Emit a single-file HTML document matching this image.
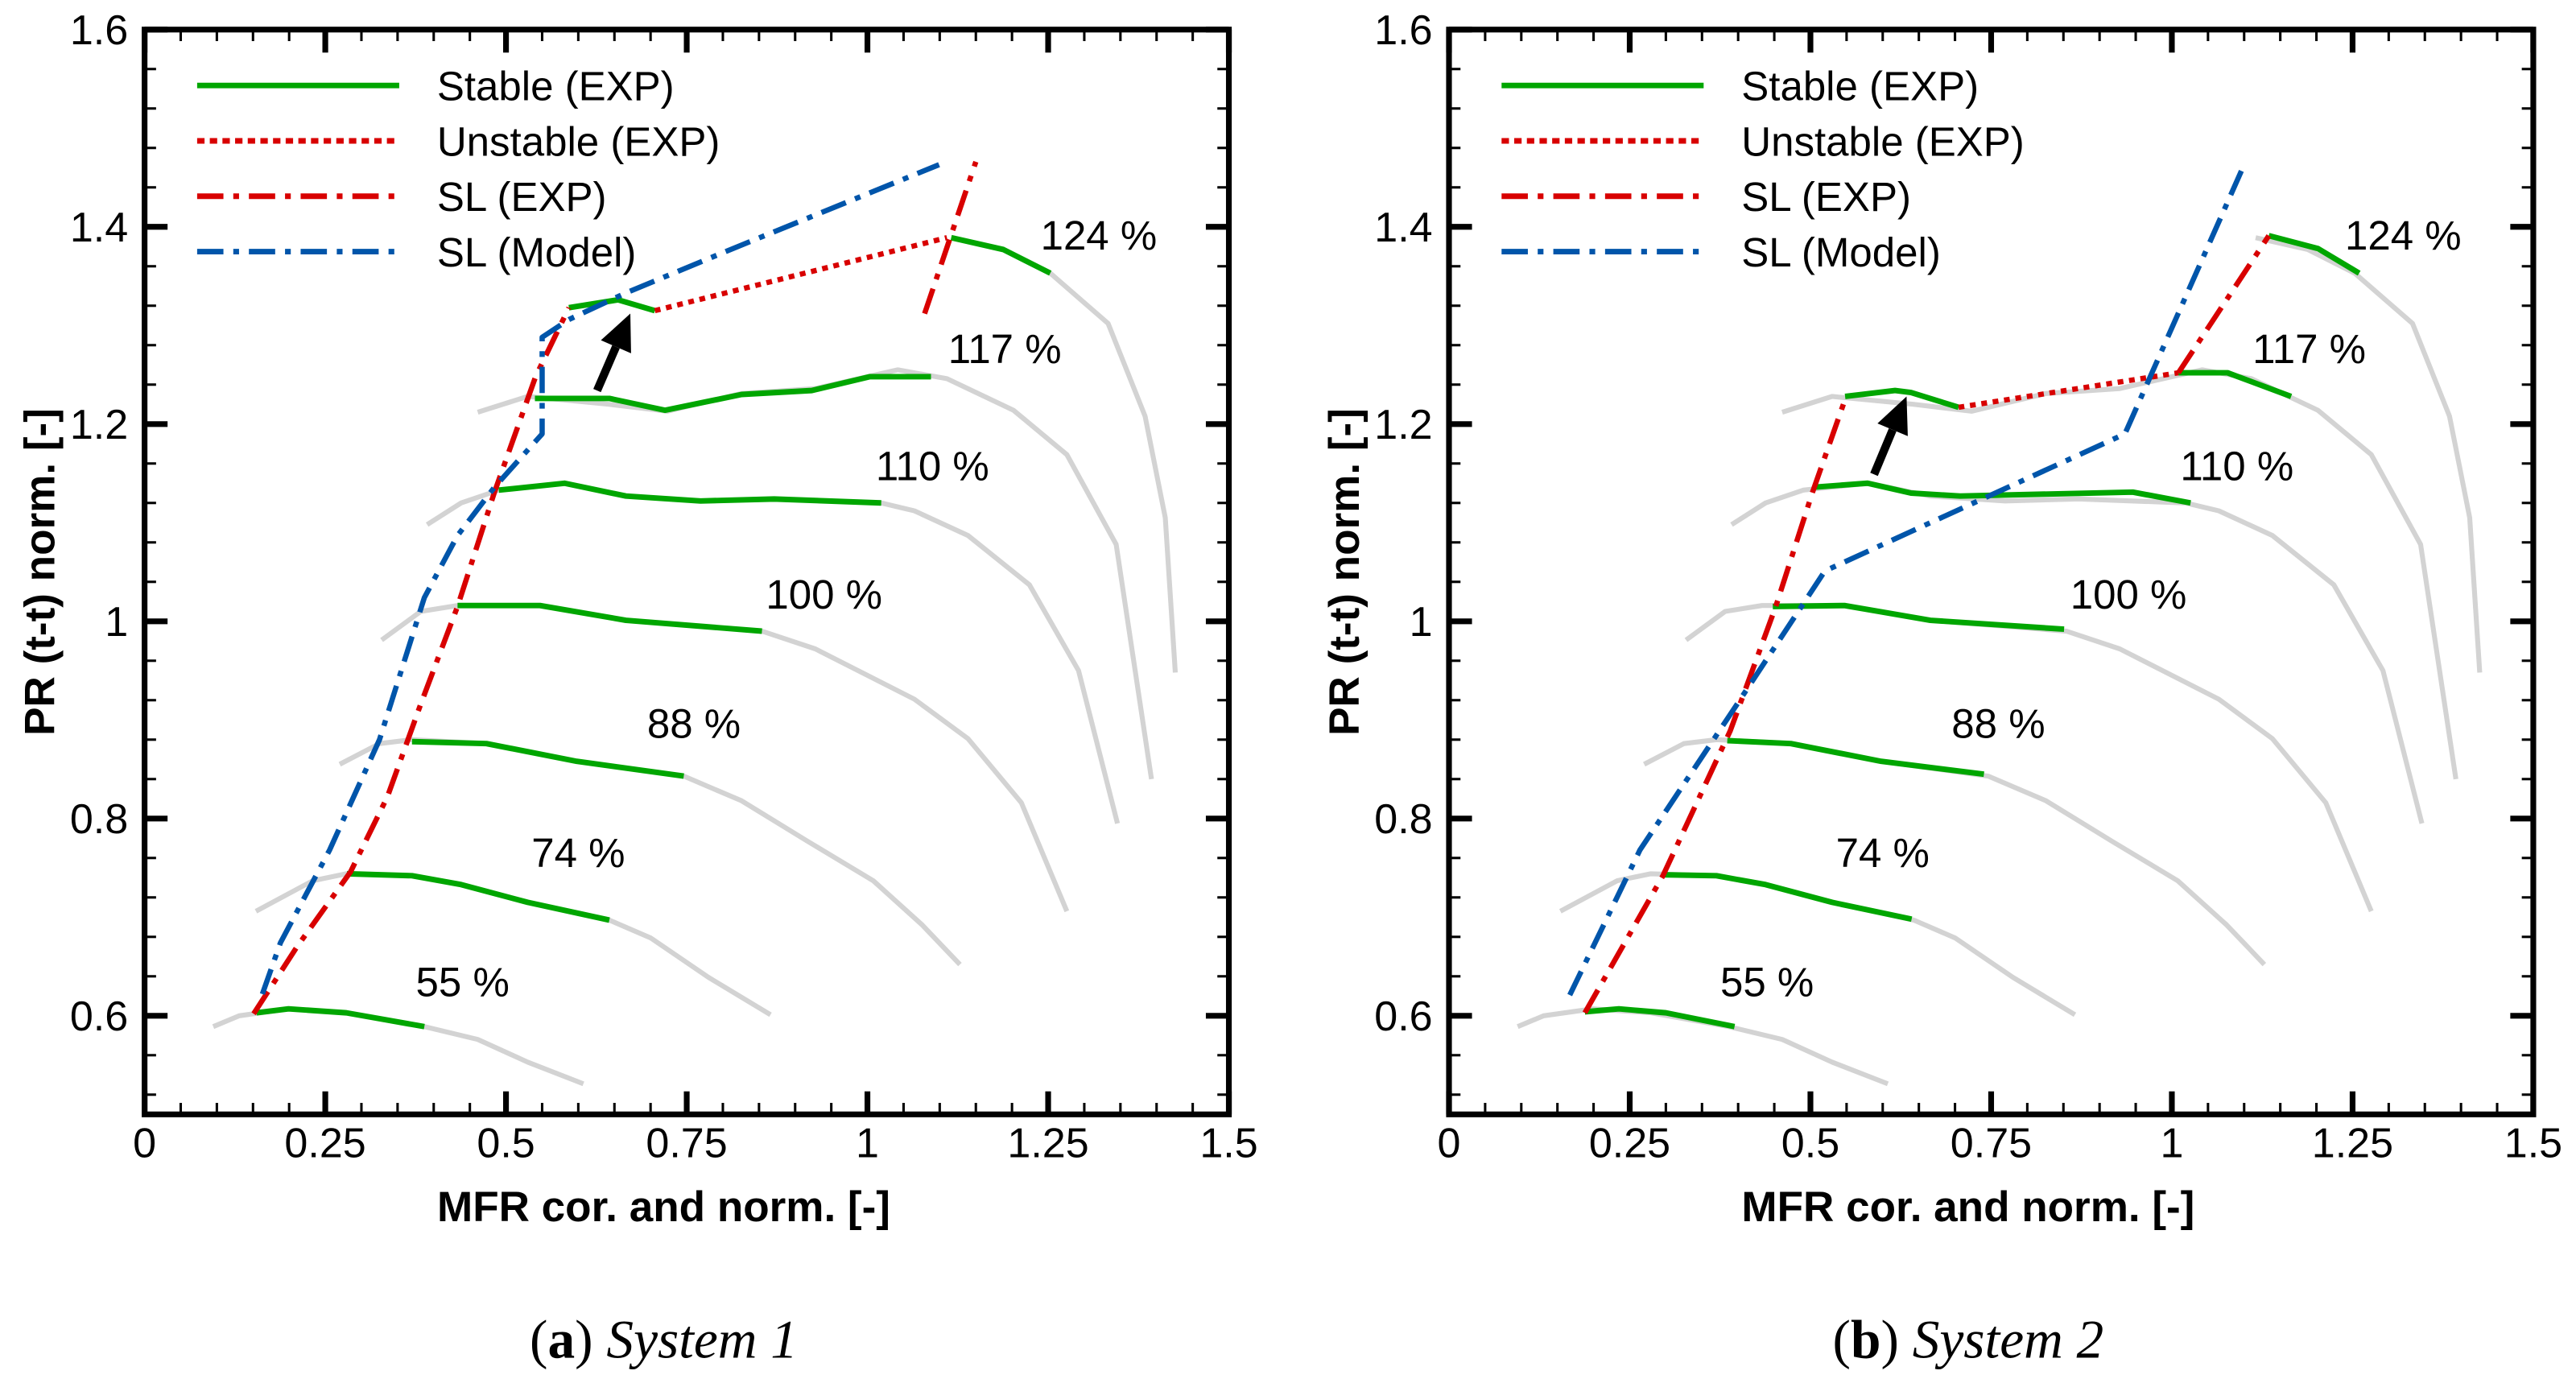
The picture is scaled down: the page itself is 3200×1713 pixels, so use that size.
<!DOCTYPE html>
<html><head><meta charset="utf-8"><style>
html,body{margin:0;padding:0;background:#fff;}
svg{display:block;}
text{font-family:"Liberation Sans",sans-serif;fill:#000;}
text.serif{font-family:"Liberation Serif",serif;}
</style></head><body>
<svg id="chart" width="3200" height="1713" viewBox="0 0 1568 839" preserveAspectRatio="none" xmlns="http://www.w3.org/2000/svg"></svg>
<script>
// ---------- data ----------
const speedLabels = ["55 %","74 %","88 %","100 %","110 %","117 %","124 %"];
const labelPos = [[0.44,0.635],[0.6,0.766],[0.76,0.897],[0.94,1.028],[1.09,1.158],[1.19,1.277],[1.32,1.392]];
const grayX = [
 [0.095,0.131,0.199,0.279,0.387,0.461,0.530,0.607],
 [0.154,0.233,0.279,0.370,0.438,0.530,0.643,0.700,0.780,0.866],
 [0.270,0.325,0.370,0.473,0.598,0.746,0.826,0.917,1.008,1.076,1.128],
 [0.328,0.382,0.433,0.547,0.666,0.854,0.928,1.065,1.139,1.213,1.276],
 [0.391,0.438,0.490,0.581,0.666,0.769,0.871,1.019,1.065,1.139,1.224,1.292,1.346],
 [0.461,0.530,0.643,0.723,0.826,0.928,1.042,1.110,1.202,1.276,1.344,1.393],
 [1.116,1.188,1.253,1.333,1.384,1.412,1.426]];
const grayY = [
 [0.589,0.600,0.607,0.603,0.589,0.576,0.553,0.531],
 [0.706,0.737,0.744,0.742,0.733,0.715,0.697,0.679,0.639,0.601],
 [0.855,0.876,0.880,0.876,0.858,0.843,0.818,0.777,0.737,0.692,0.652],
 [0.981,1.010,1.016,1.016,1.001,0.990,0.972,0.921,0.881,0.816,0.706],
 [1.098,1.120,1.133,1.140,1.127,1.122,1.124,1.120,1.112,1.087,1.037,0.950,0.795],
 [1.212,1.228,1.220,1.213,1.231,1.236,1.255,1.246,1.214,1.169,1.078,0.840],
 [1.389,1.377,1.353,1.302,1.208,1.105,0.948]];
// System 1
const s1StableX = [
 [0.155,0.199,0.279,0.387],
 [0.280,0.370,0.438,0.530,0.643],
 [0.370,0.473,0.598,0.746],
 [0.433,0.547,0.666,0.854],
 [0.490,0.581,0.666,0.769,0.871,1.019],
 [0.540,0.643,0.720,0.826,0.923,1.003,1.088],
 [0.587,0.655,0.706],
 [1.116,1.188,1.253]];
const s1StableY = [
 [0.603,0.607,0.603,0.589],
 [0.744,0.742,0.733,0.715,0.697],
 [0.878,0.876,0.858,0.843],
 [1.016,1.016,1.001,0.990],
 [1.133,1.140,1.127,1.122,1.124,1.120],
 [1.226,1.226,1.214,1.230,1.234,1.248,1.248],
 [1.318,1.326,1.315],
 [1.389,1.377,1.353]];
const s1UnstableX = [[0.706,1.110]];
const s1UnstableY = [[1.315,1.389]];
const s1SlExpX = [[0.151,0.211,0.285,0.336,0.382,0.433,0.484,0.541,0.587],[1.079,1.150]];
const s1SlExpY = [[0.602,0.670,0.746,0.822,0.916,1.015,1.131,1.248,1.318],[1.312,1.466]];
const s1ModelX = [0.163,0.188,0.256,0.325,0.387,0.433,0.484,0.550,0.550,0.587,0.666,0.814,1.099];
const s1ModelY = [0.622,0.674,0.768,0.880,1.024,1.087,1.136,1.190,1.288,1.306,1.333,1.378,1.463];
const s1Arrow = [0.626,1.234,0.672,1.312];
// System 2
const s2StableX = [
 [0.188,0.235,0.300,0.395],
 [0.295,0.370,0.438,0.530,0.640],
 [0.385,0.473,0.598,0.740],
 [0.448,0.547,0.666,0.851],
 [0.505,0.579,0.639,0.707,0.946,1.026],
 [0.548,0.617,0.639,0.705],
 [1.009,1.077,1.165],
 [1.134,1.202,1.259]];
const s2StableY = [
 [0.604,0.607,0.603,0.589],
 [0.743,0.742,0.733,0.715,0.698],
 [0.879,0.876,0.858,0.845],
 [1.015,1.016,1.001,0.992],
 [1.136,1.140,1.130,1.127,1.131,1.120],
 [1.228,1.234,1.232,1.217],
 [1.252,1.252,1.228],
 [1.391,1.378,1.353]];
const s2UnstableX = [[0.705,1.009]];
const s2UnstableY = [[1.217,1.252]];
const s2SlExpX = [[0.188,0.296,0.389,0.452,0.503,0.548],[1.009,1.134]];
const s2SlExpY = [[0.603,0.742,0.889,1.015,1.131,1.225],[1.252,1.391]];
const s2ModelX = [0.167,0.264,0.395,0.520,0.639,0.935,1.100];
const s2ModelY = [0.621,0.768,0.912,1.051,1.091,1.190,1.463];
const s2Arrow = [0.588,1.149,0.633,1.228];
const xTicks = [0,0.25,0.5,0.75,1,1.25,1.5];
const xTickLabels = ["0","0.25","0.5","0.75","1","1.25","1.5"];
const yTicks = [0.6,0.8,1.0,1.2,1.4,1.6];
const yTickLabels = ["0.6","0.8","1","1.2","1.4","1.6"];
const legendLabels = ["Stable (EXP)","Unstable (EXP)","SL (EXP)","SL (Model)"];

// ---------- drawing ----------
const NS = "http://www.w3.org/2000/svg";
const svg = document.getElementById("chart");
const TOP = 18, BOT = 678, W = 660;
const GREEN="#00a600", RED="#d80000", BLUE="#0055aa", GRAY="#d3d3d3";
function mk(tag, attrs, parent){
  const e = document.createElementNS(NS, tag);
  for (const k in attrs) e.setAttribute(k, attrs[k]);
  (parent||svg).appendChild(e); return e;
}
function sy(v){ return TOP + (1.6 - v) * 600; }

function drawPanel(x0, cap, tag, d){
  const sx = v => x0 + v * 440;
  const g = mk("g", {});
  
  
  const clipId = "clip" + tag;
  const cp = mk("clipPath", {id: clipId}, g);
  mk("rect", {x: x0, y: TOP, width: W, height: BOT - TOP}, cp);
  const data = mk("g", {"clip-path": "url(#" + clipId + ")"}, g);
  function poly(xs, ys, color, dash, name, w){
    const pts = xs.map((x,i)=> sx(x).toFixed(1) + "," + sy(ys[i]).toFixed(1)).join(" ");
    const p = mk("polyline", {points: pts, fill: "none", stroke: color, "stroke-width": w||3.2, "stroke-linejoin":"round"}, data);
    if (dash) p.setAttribute("stroke-dasharray", dash);
    
    
  }
  grayX.forEach((xs,i)=> poly(xs, grayY[i], GRAY, null, "speedline-" + speedLabels[i].replace(" %","") , 3));
  d.stX.forEach((xs,i)=> poly(xs, d.stY[i], GREEN, null, "stable-exp-segment", 3.4));
  d.unX.forEach((xs,i)=> poly(xs, d.unY[i], RED, "3.5,3.5", "unstable-exp-line", 3.2));
  d.slX.forEach((xs,i)=> poly(xs, d.slY[i], RED, "16,6,3.5,6", "sl-exp-line", 3.2));
  poly(d.moX, d.moY, BLUE, "16,6,3.5,6", "sl-model-line", 3.2);
  // arrow
  const a = d.arrow;
  const ax1=sx(a[0]), ay1=sy(a[1]), ax2=sx(a[2]), ay2=sy(a[3]);
  const ang = Math.atan2(ay2-ay1, ax2-ax1);
  const hl = 22, hw = 10;
  const bx = ax2 - hl*Math.cos(ang), by = ay2 - hl*Math.sin(ang);
  const ln = mk("line", {x1: ax1, y1: ay1, x2: bx, y2: by, stroke:"#000", "stroke-width":5}, g);
  
  
  const head = mk("polygon", {points: [ax2+","+ay2, (bx+hw*Math.sin(ang))+","+(by-hw*Math.cos(ang)), (bx-hw*Math.sin(ang))+","+(by+hw*Math.cos(ang))].join(" "), fill:"#000"}, g);
  
  
  // speed labels
  speedLabels.forEach((s,i)=>{
    const t = mk("text", {x: sx(labelPos[i][0]), y: sy(labelPos[i][1]) + 9, "font-size": 25, "text-anchor":"middle"}, g);
    t.textContent = s;
    
    
  });
  // ticks
  const tk = mk("g", {stroke:"#000"}, g);
  for (let i=0;i<=30;i++){
    const v = i*0.05, X = sx(v), major = (i%5===0);
    const L = major?14:7, w = major?3.5:1.5;
    mk("line", {x1:X, y1:BOT, x2:X, y2:BOT-L, "stroke-width":w}, tk);
    mk("line", {x1:X, y1:TOP, x2:X, y2:TOP+L, "stroke-width":w}, tk);
  }
  for (let i=0;i<=27;i++){
    const v = 0.52 + i*0.04; if (v>1.6) break;
    const Y = sy(v), major = Math.abs(((v-0.6)/0.2) - Math.round((v-0.6)/0.2))<1e-6 && v>=0.59;
    const L = major?14:7, w = major?3.5:1.5;
    mk("line", {x1:x0, y1:Y, x2:x0+L, y2:Y, "stroke-width":w}, tk);
    mk("line", {x1:x0+W, y1:Y, x2:x0+W-L, y2:Y, "stroke-width":w}, tk);
  }
  // frame
  const fr = mk("rect", {x:x0, y:TOP, width:W, height:BOT-TOP, fill:"none", stroke:"#000", "stroke-width":3.5}, g);
  
  
  xTicks.forEach((v,i)=>{
    const t = mk("text", {x: sx(v), y: 704, "font-size":25.5, "text-anchor":"middle"}, g);
    t.textContent = xTickLabels[i];
    
    
  });
  yTicks.forEach((v,i)=>{
    const t = mk("text", {x: x0-10, y: sy(v)+9, "font-size":25.5, "text-anchor":"end"}, g);
    t.textContent = yTickLabels[i];
    
    
  });
  const xt = mk("text", {x: x0+W/2-14, y: 743, "font-size":26, "font-weight":"bold", "text-anchor":"middle"}, g);
  xt.textContent = "MFR cor. and norm. [-]";
  
  
  const yt = mk("text", {x: 0, y: 0, "font-size":26, "font-weight":"bold", "text-anchor":"middle", transform:"translate("+(x0-55)+",348) rotate(-90)"}, g);
  yt.textContent = "PR (t-t) norm. [-]";
  
  
  // legend
  const lg = mk("g", {}, g);
  
  
  const styles = [[GREEN,null],[RED,"4.5,3.2"],[RED,"16,6,3.5,6"],[BLUE,"16,6,3.5,6"]];
  legendLabels.forEach((s,i)=>{
    const Y = 52 + i*33.7;
    const l = mk("line", {x1:x0+32, y1:Y, x2:x0+155, y2:Y, stroke:styles[i][0], "stroke-width":3.4}, lg);
    if (styles[i][1]) l.setAttribute("stroke-dasharray", styles[i][1]);
    
    
    const t = mk("text", {x:x0+178, y:Y+9, "font-size":25}, lg);
    t.textContent = s;
    
    
  });
  // caption
  const c = mk("text", {x: x0+W/2-14, y: 826, "font-size":33, "text-anchor":"middle", "class":"serif"}, g);
  
  
  const t1 = mk("tspan", {}, c); t1.textContent = "(";
  const t2 = mk("tspan", {"font-weight":"bold"}, c); t2.textContent = tag;
  const t3 = mk("tspan", {}, c); t3.textContent = ") ";
  const t4 = mk("tspan", {"font-style":"italic"}, c); t4.textContent = cap;
}
drawPanel(88, "System 1", "a", {stX:s1StableX, stY:s1StableY, unX:s1UnstableX, unY:s1UnstableY, slX:s1SlExpX, slY:s1SlExpY, moX:s1ModelX, moY:s1ModelY, arrow:s1Arrow});
drawPanel(882, "System 2", "b", {stX:s2StableX, stY:s2StableY, unX:s2UnstableX, unY:s2UnstableY, slX:s2SlExpX, slY:s2SlExpY, moX:s2ModelX, moY:s2ModelY, arrow:s2Arrow});
</script>
</body></html>
